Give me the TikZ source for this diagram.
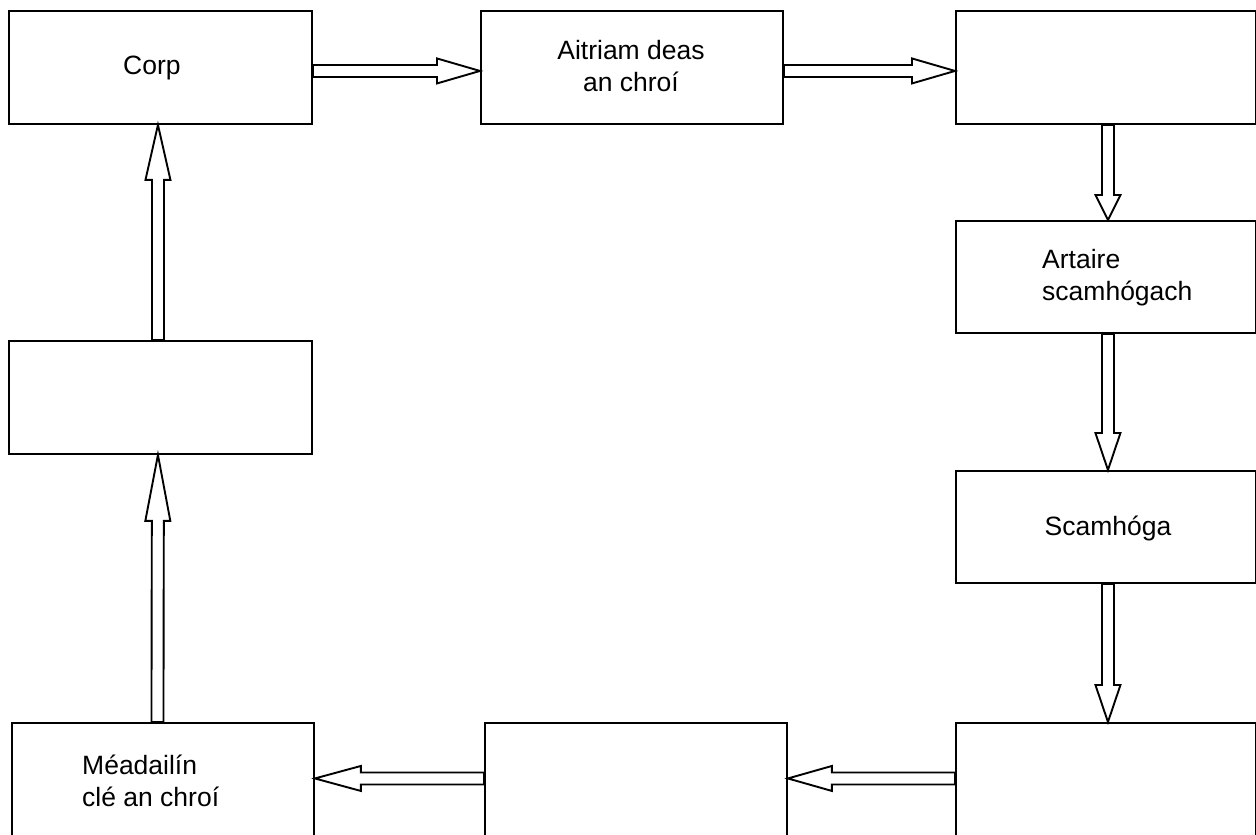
\documentclass[tikz,border=0pt]{standalone}
\usepackage{fontspec}
\setmainfont{Liberation Sans}
\usetikzlibrary{calc}
\tikzset{
  box/.style={draw, line width=1.9pt, rectangle, inner sep=0pt, anchor=north west},
  lbl/.style={inner sep=0pt, font=\fontsize{26.5}{32}\selectfont},
  farrow/.style={draw, line width=1.9pt, line join=miter, fill=white},
}
\newcommand{\fatarrow}[3]{%
  \path ($(#2)!#3pt!(#1)$) coordinate (fa-h);
  \draw[farrow] ($(#1)!6pt!90:(#2)$) -- ($(fa-h)!6pt!90:(#2)$) -- ($(fa-h)!12.5pt!90:(#2)$)
    -- (#2) -- ($(fa-h)!12.5pt!-90:(#2)$) -- ($(fa-h)!6pt!-90:(#2)$) -- ($(#1)!6pt!-90:(#2)$) -- cycle;
}
\begin{document}
\begin{tikzpicture}[x=1pt,y=-1pt]
\useasboundingbox (0,0) rectangle (1256,835);
% boxes
\node[box, minimum width=303pt, minimum height=113pt] (corp) at (8,10) {};
\node[box, minimum width=302pt, minimum height=113pt] (ait) at (480,10) {};
\node[box, minimum width=300pt, minimum height=113pt] (b3) at (955,10) {};
\node[box, minimum width=300pt, minimum height=112pt] (art) at (955,220) {};
\node[box, minimum width=300pt, minimum height=112pt] (scam) at (955,470) {};
\node[box, minimum width=300pt, minimum height=140pt] (b6) at (955,722) {};
\node[box, minimum width=302pt, minimum height=140pt] (b7) at (484,722) {};
\node[box, minimum width=302pt, minimum height=140pt] (mead) at (11,722) {};
\node[box, minimum width=303pt, minimum height=113pt] (b9) at (8,340) {};
% labels
\node[lbl, anchor=base west] (tcorp) at (123,74) {Corp};
\node[lbl, align=center] (tait) at (631,66.5) {Aitriam deas\\an chroí};
\node[lbl, align=left, anchor=west] (tart) at (1042,277.8) {Artaire\\scamhógach};
\node[lbl, anchor=base] (tscam) at (1108,535) {Scamhóga};
\node[lbl, align=left, anchor=west] (tmead) at (82,781.3) {Méadailín\\clé an chroí};
% connector ends
\coordinate (s1) at ($(corp.east)+(0,3.5)$);
\coordinate (e1) at ($(ait.west)+(0,3.5)$);
\coordinate (s2) at ($(ait.east)+(0,3.5)$);
\coordinate (e2) at ($(b3.west)+(0,3.5)$);
\coordinate (s3) at ($(b3.south)+(2,0)$);
\coordinate (e3) at ($(art.north)+(2,0)$);
\coordinate (s4) at ($(art.south)+(2,0)$);
\coordinate (e4) at ($(scam.north)+(2,0)$);
\coordinate (s5) at ($(scam.south)+(2,0)$);
\coordinate (e5) at ($(b6.north)+(2,0)$);
\coordinate (s6) at ($(b6.west)+(0,-14.5)$);
\coordinate (e6) at ($(b7.east)+(0,-14.5)$);
\coordinate (s7) at ($(b7.west)+(0,-14.5)$);
\coordinate (e7) at ($(mead.east)+(0,-14.5)$);
\coordinate (s8) at ($(mead.north)+(-5.5,0)$);
\coordinate (e8) at ($(b9.south)+(-2.5,0)$);
\coordinate (s9) at ($(b9.north)+(-2.5,0)$);
\coordinate (e9) at ($(corp.south)+(-2.5,0)$);
% connectors
\fatarrow{s1}{e1}{43}
\fatarrow{s2}{e2}{43}
\fatarrow{s3}{e3}{25}
\fatarrow{s4}{e4}{37}
\fatarrow{s5}{e5}{37}
\fatarrow{s6}{e6}{44}
\fatarrow{s7}{e7}{46}
\fatarrow{s8}{e8}{66}
\fatarrow{s9}{e9}{55}
\end{tikzpicture}
\end{document}
